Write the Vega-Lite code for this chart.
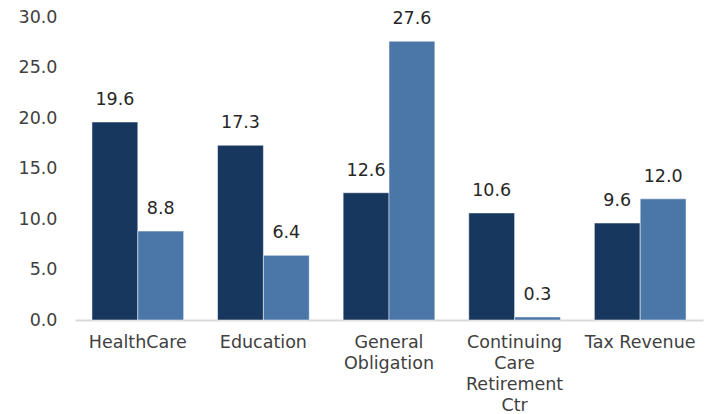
{
  "$schema": "https://vega.github.io/schema/vega-lite/v6.json",
  "width": 628,
  "height": 303,
  "autosize": {"type": "none"},
  "padding": {"left": 75, "top": 17, "right": 12, "bottom": 94},
  "background": "white",
  "config": {
    "view": {"stroke": null},
    "font": "DejaVu Sans"
  },
  "data": {
    "values": [
      {"category": "HealthCare", "series": "A", "value": 19.6},
      {"category": "HealthCare", "series": "B", "value": 8.8},
      {"category": "Education", "series": "A", "value": 17.3},
      {"category": "Education", "series": "B", "value": 6.4},
      {"category": "General Obligation", "series": "A", "value": 12.6},
      {"category": "General Obligation", "series": "B", "value": 27.6},
      {"category": "Continuing Care Retirement Ctr", "series": "A", "value": 10.6},
      {"category": "Continuing Care Retirement Ctr", "series": "B", "value": 0.3},
      {"category": "Tax Revenue", "series": "A", "value": 9.6},
      {"category": "Tax Revenue", "series": "B", "value": 12.0}
    ]
  },
  "encoding": {
    "x": {
      "field": "category",
      "type": "nominal",
      "sort": null,
      "scale": {"paddingInner": 0.27, "paddingOuter": 0.135},
      "axis": {
        "title": null,
        "labelAngle": 0,
        "ticks": false,
        "domainColor": "#d9d9d9",
        "domainWidth": 2,
        "labelFontSize": 17.5,
        "labelColor": "#404040",
        "labelPadding": 13,
        "labelLineHeight": 21,
        "labelBaseline": "top",
        "labelExpr": "datum.value == 'General Obligation' ? ['General','Obligation'] : datum.value == 'Continuing Care Retirement Ctr' ? ['Continuing','Care','Retirement','Ctr'] : datum.value"
      }
    },
    "xOffset": {"field": "series", "type": "nominal"},
    "y": {
      "field": "value",
      "type": "quantitative",
      "scale": {"domain": [0, 30]},
      "axis": {
        "title": null,
        "values": [0, 5, 10, 15, 20, 25, 30],
        "format": ".1f",
        "grid": false,
        "domain": false,
        "ticks": false,
        "labelFontSize": 17.5,
        "labelColor": "#404040",
        "labelPadding": 18
      }
    }
  },
  "layer": [
    {
      "mark": {"type": "bar", "stroke": "white", "strokeWidth": 0.5},
      "encoding": {
        "color": {
          "field": "series",
          "type": "nominal",
          "scale": {"domain": ["A", "B"], "range": ["#17375e", "#4a76a8"]},
          "legend": null
        }
      }
    },
    {
      "mark": {"type": "text", "baseline": "middle", "dy": -22, "fontSize": 17.5, "color": "#262626"},
      "encoding": {
        "text": {"field": "value", "type": "quantitative", "format": ".1f"}
      }
    }
  ]
}
